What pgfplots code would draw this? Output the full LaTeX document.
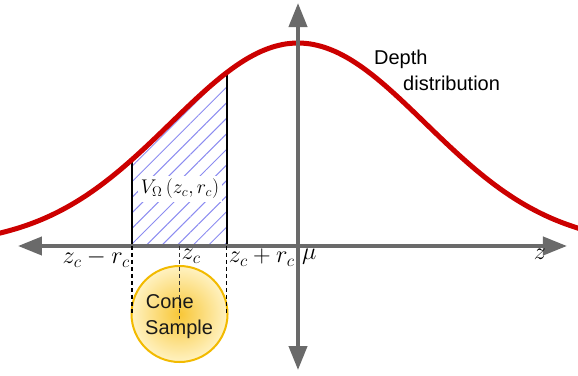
\documentclass[border=0pt]{standalone}
\usepackage{fix-cm}
\usepackage{fontspec}
\setmainfont{Liberation Sans}
\usepackage{pgfplots}
\pgfplotsset{compat=1.18}
\usetikzlibrary{arrows.meta,patterns.meta}

\definecolor{axisgray}{HTML}{6A6A6A}
\definecolor{curvered}{HTML}{CC0000}
\definecolor{hatchblue}{HTML}{8C8CF0}
\definecolor{coneedge}{HTML}{F2BA00}
\definecolor{conein}{HTML}{F8C737}
\definecolor{coneout}{HTML}{FFF2C2}

\newcommand{\lbl}[1]{\scalebox{1.16}{\fontsize{21bp}{25bp}\selectfont$#1$}}

\begin{document}
\begin{tikzpicture}
\begin{axis}[
  x=127bp, y=203bp,
  xmin=-2.3465, xmax=2.2047,
  ymin=-0.6404, ymax=1.2118,
  axis line style={draw=none},
  ticks=none,
  no markers,
]
% hatched area under the curve
\addplot[draw=none, pattern={Lines[angle=45,distance=11bp,line width=1bp]}, pattern color=hatchblue]
  coordinates {(-1.307,0) (-1.307,0.4256) (-1.2,0.4868) (-1.1,0.5461) (-1.0,0.6065)
    (-0.9,0.6670) (-0.8,0.7261) (-0.7,0.7827) (-0.6,0.8353) (-0.561,0.8544) (-0.561,0)} -- cycle;
\addplot[black, line width=1.5bp] coordinates {(-1.307,0) (-1.307,0.4256)};
\addplot[black, line width=1.5bp] coordinates {(-0.561,0) (-0.561,0.8544)};
\node[fill=white, inner sep=3bp]
  at (axis cs:-0.929,0.281) {\scalebox{1.1}{\fontsize{18bp}{22bp}\selectfont$V_{\Omega}\left(z_c, r_c\right)$}};

% depth distribution
\addplot[curvered, line width=5bp, smooth] coordinates {
  (-2.35,0.0632) (-2.3,0.0710) (-2.2,0.0889) (-2.1,0.1103) (-2.0,0.1353)
  (-1.9,0.1645) (-1.8,0.1979) (-1.7,0.2357) (-1.6,0.2780) (-1.5,0.3247)
  (-1.4,0.3753) (-1.3,0.4296) (-1.2,0.4868) (-1.1,0.5461) (-1.0,0.6065)
  (-0.9,0.6670) (-0.8,0.7261) (-0.7,0.7827) (-0.6,0.8353) (-0.5,0.8825)
  (-0.4,0.9231) (-0.3,0.9560) (-0.2,0.9802) (-0.1,0.9950) (0,1)
  (0.1,0.9950) (0.2,0.9802) (0.3,0.9560) (0.4,0.9231) (0.5,0.8825)
  (0.6,0.8353) (0.7,0.7827) (0.8,0.7261) (0.9,0.6670) (1.0,0.6065)
  (1.1,0.5461) (1.2,0.4868) (1.3,0.4296) (1.4,0.3753) (1.5,0.3247)
  (1.6,0.2780) (1.7,0.2357) (1.8,0.1979) (1.9,0.1645) (2.0,0.1353)
  (2.1,0.1103) (2.2,0.0889) (2.21,0.0870)};

% axes
\addplot[axisgray, line width=4bp,
  arrows={Triangle[length=24bp,width=18bp]-Triangle[length=24bp,width=18bp]}]
  coordinates {(-2.205,0) (2.118,0)};
\addplot[axisgray, line width=4bp,
  arrows={Triangle[length=24bp,width=18bp]-Triangle[length=24bp,width=18bp]}]
  coordinates {(0,-0.611) (0,1.197)};

% cone sample
\draw[coneedge, line width=2bp, inner color=conein, outer color=coneout]
  (axis cs:-0.933,-0.335) circle[radius=48bp];
\addplot[black, line width=1.1bp, dash pattern=on 4bp off 3bp] coordinates {(-1.307,0) (-1.307,-0.335)};
\addplot[black, line width=1.1bp, dash pattern=on 4bp off 3bp] coordinates {(-0.561,0) (-0.561,-0.335)};
\addplot[black!80, line width=1.1bp, dash pattern=on 4bp off 3bp] coordinates {(-0.933,0) (-0.933,-0.36)};
\node[anchor=base west, inner sep=0pt, font=\fontsize{20bp}{24bp}\selectfont, text=black!90]
  at (axis cs:-1.199,-0.310) {Cone};
\node[anchor=base west, inner sep=0pt, font=\fontsize{20bp}{24bp}\selectfont, text=black!90]
  at (axis cs:-1.205,-0.438) {Sample};

% tick-like labels
\node[anchor=north east, inner sep=2bp, yshift=-1bp] at (axis cs:-1.307,0) {\lbl{z_c - r_c}};
\node[anchor=north west, inner sep=2bp, yshift=-1bp] at (axis cs:-0.933,0) {\lbl{z_c}};
\node[anchor=north west, inner sep=2bp, yshift=-1bp] at (axis cs:-0.561,0) {\lbl{z_c + r_c}};
\node[anchor=north west, inner sep=2bp, xshift=2bp, yshift=-1bp] at (axis cs:0,0) {\lbl{\mu}};
\node[anchor=north, inner sep=2bp, yshift=-1bp] at (axis cs:1.905,0) {\lbl{z}};

\node[anchor=base west, inner sep=0pt, font=\fontsize{20bp}{24bp}\selectfont]
  at (axis cs:0.598,0.892) {Depth};
\node[anchor=base west, inner sep=0pt, font=\fontsize{20bp}{24bp}\selectfont]
  at (axis cs:0.827,0.764) {distribution};
\end{axis}
\end{tikzpicture}
\end{document}
